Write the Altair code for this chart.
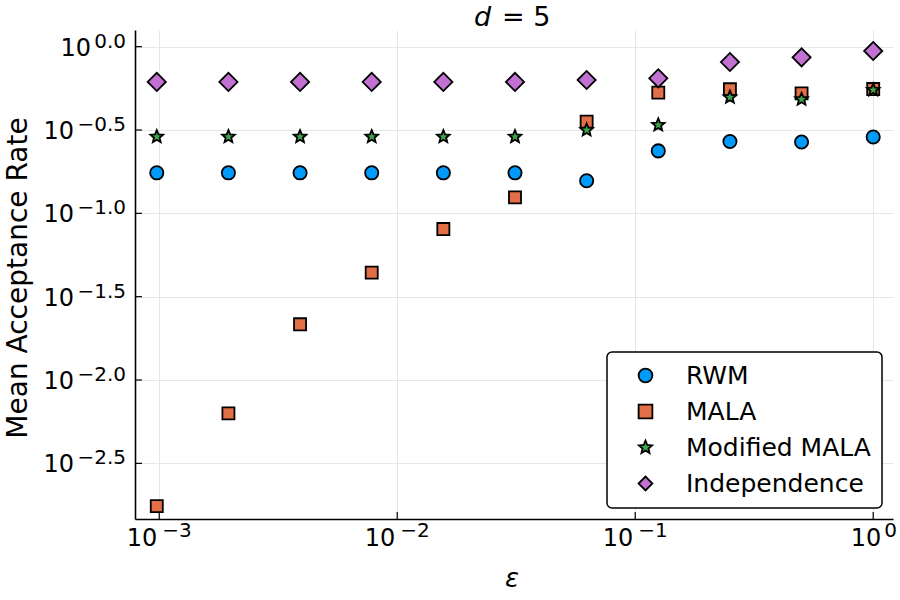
import math

import altair as alt
import pandas as pd

FONT = "DejaVu Sans"

# step sizes (epsilon) used in the runs
eps = [0.0009765625, 0.001953125, 0.00390625, 0.0078125, 0.015625,
       0.03125, 0.0625, 0.125, 0.25, 0.5, 1.0]

series_names = ["RWM", "MALA", "Modified MALA", "Independence"]
series_colors = ["#009AFA", "#E26F46", "#3EA44E", "#C271D2"]

# mean acceptance rate per sampler
rwm = [0.175, 0.175, 0.175, 0.175, 0.175, 0.175, 0.157, 0.237, 0.270, 0.268, 0.287]
mala = [0.00175, 0.00631, 0.0216, 0.0441, 0.0805, 0.1247, 0.355, 0.530, 0.555, 0.525, 0.557]
mod_mala = [0.288, 0.288, 0.288, 0.288, 0.288, 0.288, 0.316, 0.339, 0.497, 0.483, 0.550]
independence = [0.614, 0.614, 0.614, 0.614, 0.614, 0.614, 0.631, 0.646, 0.809, 0.863, 0.942]

# tick positions and the exponents shown in their labels
x_ticks = [0.001, 0.01, 0.1, 1.0]
x_exps = ["−3", "−2", "−1", "0"]
y_ticks = [1.0, 0.316228, 0.1, 0.0316228, 0.01, 0.00316228]
y_exps = ["0.0", "−0.5", "−1.0", "−1.5", "−2.0", "−2.5"]

W, H = 758, 489

# marker area for each sampler's symbol
marker_area = {"RWM": 175, "MALA": 145, "Modified MALA": 175, "Independence": 330}

rows = []
for name, vals in zip(series_names, [rwm, mala, mod_mala, independence]):
    for e, v in zip(eps, vals):
        rows.append({"eps": e, "rate": v, "series": name})
df = pd.DataFrame(rows)
xt = pd.DataFrame({"v": x_ticks, "exp": x_exps})
yt = pd.DataFrame({"v": y_ticks, "exp": y_exps})
one = pd.DataFrame({"k": [0]})

xs = alt.Scale(type="log", domain=[7.91e-4, 1.211], nice=False)
ys = alt.Scale(type="log", domain=[1.466e-3, 1.259], nice=False)

grid = dict(grid=True, gridColor="#e6e6e6", gridWidth=1, labels=False,
            ticks=False, domainColor="black", domainWidth=1.6, title=None)
x_axis = alt.Axis(values=x_ticks, **grid)
y_axis = alt.Axis(values=y_ticks, **grid)


def X(field):
    return alt.X(field, type="quantitative", scale=xs, axis=x_axis)


def Y(field):
    return alt.Y(field, type="quantitative", scale=ys, axis=y_axis)


def star_path(inner=0.45):
    pts = []
    for i in range(10):
        r = 1.0 if i % 2 == 0 else inner
        a = -math.pi / 2 + i * math.pi / 5
        pts.append(f"{r * math.cos(a):.4f},{r * math.sin(a):.4f}")
    return "M" + "L".join(pts) + "Z"


size_expr = " : ".join(
    f"datum.series == '{k}' ? {v}" for k, v in marker_area.items()
) + " : 150"
order_expr = " : ".join(
    f"datum.series == '{k}' ? {i}" for i, k in enumerate(series_names)
) + " : 0"

points = alt.Chart(df).transform_calculate(
    msize=size_expr, draw_order=order_expr
).mark_point(
    filled=True, opacity=1, stroke="black", strokeWidth=1.8
).encode(
    x=X("eps"),
    y=Y("rate"),
    color=alt.Color(
        "series:N",
        scale=alt.Scale(domain=series_names, range=series_colors),
        legend=alt.Legend(
            title=None, orient="none", legendX=472, legendY=322,
            padding=11, strokeColor="black", cornerRadius=5,
            fillColor="white", labelFontSize=25, labelFont=FONT,
            labelColor="black", labelLimit=400, symbolStrokeColor="black",
            symbolStrokeWidth=1.8, symbolSize=190, rowPadding=10,
            symbolOffset=15, labelOffset=28,
        ),
    ),
    shape=alt.Shape(
        "series:N",
        scale=alt.Scale(domain=series_names,
                        range=["circle", "square", star_path(), "diamond"]),
    ),
    size=alt.Size("msize:Q", scale=None),
    order=alt.Order("draw_order:Q"),
)

# inward tick marks
x_tick_marks = alt.Chart(xt).mark_rule(color="black", strokeWidth=1.2).encode(
    x=X("v"), y=alt.value(H), y2=alt.value(H - 7)
)
y_tick_marks = alt.Chart(yt).mark_rule(color="black", strokeWidth=1.2).encode(
    y=Y("v"), x=alt.value(0), x2=alt.value(7)
)

# y tick labels: "10" with a raised exponent
y_exp_text = alt.Chart(yt).mark_text(
    align="right", baseline="alphabetic", fontSize=20, font=FONT, dy=1, color="black"
).encode(y=Y("v"), x=alt.value(-9), text="exp:N")
y_base_zero = alt.Chart(yt).transform_filter(alt.datum.exp == "0.0").mark_text(
    text="10", align="right", baseline="alphabetic", fontSize=24, font=FONT, dy=9,
    color="black"
).encode(y=Y("v"), x=alt.value(-44))
y_base_neg = alt.Chart(yt).transform_filter(alt.datum.exp != "0.0").mark_text(
    text="10", align="right", baseline="alphabetic", fontSize=24, font=FONT, dy=9,
    color="black"
).encode(y=Y("v"), x=alt.value(-61))

# x tick labels
x_base_neg = alt.Chart(xt).transform_filter(alt.datum.exp != "0").mark_text(
    text="10", align="right", baseline="alphabetic", fontSize=24, font=FONT, dx=-2,
    color="black"
).encode(x=X("v"), y=alt.value(H + 27))
x_exp_neg = alt.Chart(xt).transform_filter(alt.datum.exp != "0").mark_text(
    align="left", baseline="alphabetic", fontSize=20, font=FONT, dx=3, color="black"
).encode(x=X("v"), y=alt.value(H + 18), text="exp:N")
x_base_zero = alt.Chart(xt).transform_filter(alt.datum.exp == "0").mark_text(
    text="10", align="right", baseline="alphabetic", fontSize=24, font=FONT, dx=8,
    color="black"
).encode(x=X("v"), y=alt.value(H + 27))
x_exp_zero = alt.Chart(xt).transform_filter(alt.datum.exp == "0").mark_text(
    align="left", baseline="alphabetic", fontSize=20, font=FONT, dx=11, color="black"
).encode(x=X("v"), y=alt.value(H + 18), text="exp:N")

# axis titles and plot title
x_title = alt.Chart(one).mark_text(
    text="ε", fontStyle="italic", fontSize=26, font=FONT, align="center",
    baseline="alphabetic", color="black"
).encode(x=alt.value(377), y=alt.value(H + 68))
y_title = alt.Chart(one).mark_text(
    text="Mean Acceptance Rate", angle=270, fontSize=28, font=FONT, align="center",
    baseline="middle", color="black"
).encode(x=alt.value(-116), y=alt.value(248))
title_d = alt.Chart(one).mark_text(
    text="d", fontStyle="italic", fontSize=27, font=FONT, align="left",
    baseline="alphabetic", color="black"
).encode(x=alt.value(339), y=alt.value(-4))
title_rest = alt.Chart(one).mark_text(
    text="= 5", fontSize=27, font=FONT, align="left", baseline="alphabetic",
    color="black"
).encode(x=alt.value(367), y=alt.value(-4))

chart = alt.layer(
    points, x_tick_marks, y_tick_marks,
    y_exp_text, y_base_zero, y_base_neg,
    x_base_neg, x_exp_neg, x_base_zero, x_exp_zero,
    x_title, y_title, title_d, title_rest,
).properties(
    width=W, height=H,
    autosize=alt.AutoSizeParams(type="none"),
    padding={"left": 135, "top": 30, "right": 7, "bottom": 81},
    background="white",
).configure_view(stroke=None).configure_legend(strokeWidth=1.5)

chart.save("out.html", embed_options={"renderer": "svg", "actions": False})
